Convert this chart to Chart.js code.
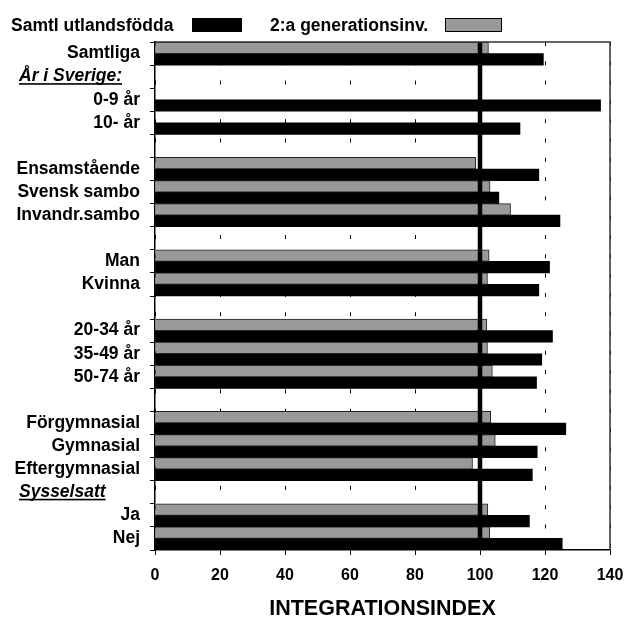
<!DOCTYPE html>
<html>
<head>
<meta charset="utf-8">
<script src="https://cdn.jsdelivr.net/npm/chart.js@4/dist/chart.umd.min.js"></script>
<style>
  html, body { margin: 0; padding: 0; background: #fff; }
  #wrap { width: 637px; height: 619px; position: relative; }
</style>
</head>
<body>
<div id="wrap"><canvas id="c" width="637" height="619"></canvas></div>
<script>
// ---- data ----
const categories = ['Samtliga', 'År i Sverige:', '0-9 år', '10- år', ' ', 'Ensamstående', 'Svensk sambo', 'Invandr.sambo', '  ', 'Man', 'Kvinna', '   ', '20-34 år', '35-49 år', '50-74 år', '    ', 'Förgymnasial', 'Gymnasial', 'Eftergymnasial', 'Sysselsatt', 'Ja', 'Nej'];
const headerLabels = ['År i Sverige:', 'Sysselsatt'];
const seriesNames = ['Samtl utlandsfödda', '2:a generationsinv.'];
const utlandsfodda = [119.5, null, 137.1, 112.3, null, 118.1, 105.8, 124.6, null, 121.4, 118.1, null, 122.3, 119.0, 117.4, null, 126.4, 117.6, 116.1, null, 115.2, 125.3];
const andraGen = [102.6, null, null, null, null, 98.7, 103.1, 109.4, null, 102.8, 102.3, null, 102.1, 102.3, 103.8, null, 103.3, 104.7, 97.7, null, 102.4, 103.0];
const xTicks = [0, 20, 40, 60, 80, 100, 120, 140];
const referenceValue = 100;
const axisTitle = 'INTEGRATIONSINDEX';

const FONT = "'Liberation Sans', Arial, sans-serif";
Chart.defaults.font.family = FONT;
Chart.defaults.color = '#000';

const blackColor = '#000000';
const grayColor = '#999999';

const refLinePlugin = {
  id: 'refLine',
  afterDatasetsDraw(chart) {
    const { ctx, chartArea, scales } = chart;
    const x = scales.x.getPixelForValue(referenceValue);
    ctx.save();
    ctx.strokeStyle = '#000';
    ctx.lineWidth = 4.5;
    ctx.beginPath();
    ctx.moveTo(x, chartArea.top);
    ctx.lineTo(x, chartArea.bottom);
    ctx.stroke();
    // plot frame (top and right)
    ctx.strokeStyle = '#333';
    ctx.lineWidth = 1.5;
    ctx.beginPath();
    ctx.moveTo(chartArea.left, chartArea.top);
    ctx.lineTo(chartArea.right, chartArea.top);
    ctx.lineTo(chartArea.right, chartArea.bottom);
    ctx.stroke();
    ctx.restore();
  }
};

const headerPlugin = {
  id: 'headers',
  afterDraw(chart) {
    const { ctx, scales } = chart;
    ctx.save();
    ctx.font = "italic bold 17.5px " + FONT;
    ctx.fillStyle = '#000';
    ctx.textAlign = 'left';
    ctx.textBaseline = 'middle';
    headerLabels.forEach(lbl => {
      const idx = categories.indexOf(lbl);
      const y = scales.y.getPixelForValue(idx);
      const x = 19;
      ctx.fillText(lbl, x, y);
      const w = ctx.measureText(lbl).width;
      ctx.fillRect(x, y + 6.5, w, 1.6);
    });
    // legend
    ctx.font = "bold 17.5px " + FONT;
    ctx.textBaseline = 'alphabetic';
    ctx.fillText(seriesNames[0], 11, 31);
    ctx.fillStyle = blackColor;
    ctx.fillRect(192, 18, 50, 14);
    ctx.fillStyle = '#000';
    ctx.fillText(seriesNames[1], 270, 31);
    ctx.fillStyle = grayColor;
    ctx.fillRect(445.5, 18.5, 56, 13);
    ctx.strokeStyle = '#000';
    ctx.lineWidth = 1;
    ctx.strokeRect(445.5, 18.5, 56, 13);
    ctx.restore();
  }
};

new Chart(document.getElementById('c'), {
  type: 'bar',
  data: {
    labels: categories,
    datasets: [
      {
        label: seriesNames[1],
        data: andraGen,
        backgroundColor: grayColor,
        borderColor: '#222',
        borderWidth: 1,
        categoryPercentage: 1.0,
        barPercentage: 1.0
      },
      {
        label: seriesNames[0],
        data: utlandsfodda,
        backgroundColor: blackColor,
        borderColor: '#333',
        borderWidth: 0,
        categoryPercentage: 1.0,
        barPercentage: 1.0
      }
    ]
  },
  options: {
    indexAxis: 'y',
    responsive: false,
    animation: false,
    events: [],
    layout: { padding: { left: 0, right: 27, top: 42, bottom: 0 } },
    plugins: {
      legend: { display: false },
      title: { display: false },
      tooltip: { enabled: false }
    },
    scales: {
      x: {
        min: 0, max: 140,
        afterBuildTicks(scale) { scale.ticks = xTicks.map(v => ({ value: v })); },
        afterFit(scale) { scale.height = 69; },
        grid: {
          color: '#000',
          lineWidth: 1,
          tickLength: 5,
          tickColor: '#000',
          drawTicks: true
        },
        border: { display: true, color: '#000', width: 1.5, dash: [4, 15.3] },
        ticks: {
          font: { size: 16, weight: 'bold' },
          color: '#000',
          padding: 11
        },
        title: {
          display: true,
          text: axisTitle,
          font: { size: 21.5, weight: 'bold' },
          color: '#000',
          padding: { top: 0, bottom: -3 }
        }
      },
      y: {
        afterFit(scale) { scale.width = 155; },
        grid: {
          drawOnChartArea: false,
          tickLength: 5,
          tickColor: '#000',
          offset: true
        },
        border: { display: true, color: '#000', width: 1.5 },
        ticks: {
          autoSkip: false,
          font: { size: 17.5, weight: 'bold' },
          color: '#000',
          padding: 10,
          callback(value, index) {
            const l = categories[index];
            return headerLabels.includes(l) ? '' : l.trim();
          }
        }
      }
    }
  },
  plugins: [refLinePlugin, headerPlugin]
});
</script>
</body>
</html>
